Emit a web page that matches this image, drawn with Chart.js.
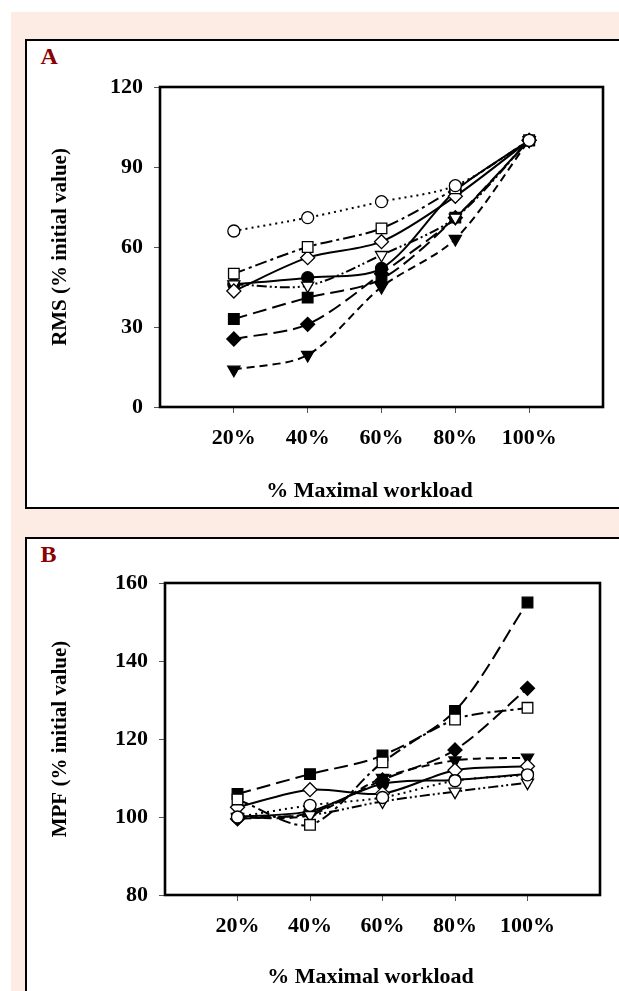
<!DOCTYPE html>
<html><head><meta charset="utf-8">
<script src="https://cdn.jsdelivr.net/npm/chart.js@4/dist/chart.umd.min.js"></script>
<style>
html,body{margin:0;padding:0;background:#fff;width:619px;height:991px;overflow:hidden;position:relative;font-family:'Liberation Serif',serif;}
#bg{position:absolute;left:11px;top:12px;width:608px;height:979px;background:#fdece3;}
.box{position:absolute;left:25px;width:700px;border:2px solid #000;background:#fff;}
#boxA{top:39px;height:466px;}
#boxB{top:537px;height:500px;}
.lbl{position:absolute;left:13.5px;top:2.5px;font:bold 24px/24px 'Liberation Serif';color:#8b0000;}
canvas{position:absolute;left:0;top:0;}
</style></head>
<body>
<div id="bg"></div>
<div class="box" id="boxA"><div class="lbl">A</div><canvas id="cA" width="592" height="466"></canvas></div>
<div class="box" id="boxB"><div class="lbl">B</div><canvas id="cB" width="592" height="452"></canvas></div>
<script>
// ---- data ----
const workload = [20, 40, 60, 80, 100];
const xTickLabels = ['20%', '40%', '60%', '80%', '100%'];
const xAxisTitle = '% Maximal workload';
const rmsTicks = [0, 30, 60, 90, 120];
const mpfTicks = [80, 100, 120, 140, 160];

const rmsOpenCircle    = [66, 71, 77, 83, 100];
const rmsOpenSquare    = [50, 60, 67, 82, 100];
const rmsOpenDiamond   = [43.5, 56, 62, 79, 100];
const rmsOpenTriangle  = [46, 45.5, 57, 71, 100];
const rmsFilledCircle  = [46, 48.5, 52, 81, 100];
const rmsFilledSquare  = [33, 41, 48, 71, 100];
const rmsFilledDiamond = [25.5, 31, 50, 71, 100];
const rmsFilledTriangle= [14, 19.5, 45, 63, 100];

const mpfOpenCircle    = [100, 103, 105, 109.3, 110.8];
const mpfOpenSquare    = [104.5, 98, 114, 125, 128];
const mpfOpenDiamond   = [102.5, 107, 106, 112, 113];
const mpfOpenTriangle  = [100, 100.5, 104, 106.5, 108.8];
const mpfFilledCircle  = [100, 101.5, 108.5, 109.5, 111];
const mpfFilledSquare  = [105.9, 111, 115.8, 127.2, 155];
const mpfFilledDiamond = [99.5, 101, 109.5, 117.2, 133];
const mpfFilledTriangle= [99.8, 100.5, 110, 114.5, 115.2];

// ---- styles ----
const S = {
  openCircle:    {ps:'circle',  bg:'#fff', dash:[2,4], r:6},
  openSquare:    {ps:'rect',    bg:'#fff', dash:[12,4,3,4], r:7.5},
  openDiamond:   {ps:'rectRot', bg:'#fff', dash:[], r:7},
  openTriangle:  {ps:'triangle',bg:'#fff', dash:[10,3,2,3,2,3], r:7, rot:180},
  filledCircle:  {ps:'circle',  bg:'#000', dash:[], r:6},
  filledSquare:  {ps:'rect',    bg:'#000', dash:[14,6], r:7.5},
  filledDiamond: {ps:'rectRot', bg:'#000', dash:[14,6], r:7},
  filledTriangle:{ps:'triangle',bg:'#000', dash:[8,5], r:7, rot:180}
};

function ds(vals, key){
  const s = S[key];
  return {
    data: workload.map((x,i)=>({x:x, y:vals[i]})),
    borderColor:'#000', borderWidth:2, borderDash:s.dash, tension:0.3,
    pointStyle:s.ps, pointRadius:s.r, pointRotation:s.rot||0,
    pointBackgroundColor:s.bg, pointBorderColor:'#000', pointBorderWidth:1.3,
    fill:false
  };
}

const F = "'Liberation Serif', 'Times New Roman', serif";

const framePlugin = {id:'frame', beforeDatasetsDraw(chart){
  const {ctx, chartArea:{left,top,right,bottom}} = chart;
  ctx.save(); ctx.strokeStyle='#000'; ctx.lineWidth=2.6; ctx.setLineDash([]);
  ctx.strokeRect(left,top,right-left,bottom-top); ctx.restore();
}};

// x-axis title, drawn slightly left of the plot centre as in the original
const xTitlePlugin = {id:'xTitle', afterDraw(chart, args, opts){
  const {ctx, chartArea:{left,right}} = chart;
  ctx.save(); ctx.fillStyle='#000'; ctx.font = "bold 22px " + F;
  ctx.textAlign='center'; ctx.textBaseline='middle';
  ctx.fillText(xAxisTitle, (left+right)/2 + opts.dx, chart.height - opts.fromBottom);
  ctx.restore();
}};

function makeChart(id, datasets, yTicks, yTitle, cfg){
  new Chart(document.getElementById(id), {
    type:'line',
    data:{datasets},
    options:{
      responsive:false, animation:false, devicePixelRatio:1,
      layout:{padding:{left:0, top:cfg.padTop, right:cfg.padRight, bottom:0}},
      plugins:{legend:{display:false}, tooltip:{enabled:false},
               xTitle:{dx:-12, fromBottom:cfg.titleFromBottom}},
      scales:{
        x:{type:'linear', min:0, max:120,
          afterBuildTicks:(sc)=>{ sc.ticks = workload.map(v=>({value:v})); },
          afterFit:(sc)=>{ sc.height = cfg.xHeight; },
          ticks:{callback:(v)=>xTickLabels[workload.indexOf(v)], color:'#000', padding:12, maxRotation:0, autoSkip:false,
                 font:{family:F, size:22, weight:'bold'}},
          grid:{drawOnChartArea:false, drawTicks:true, tickLength:6, color:'#555', lineWidth:1},
          border:{display:false},
          title:{display:false}
        },
        y:{type:'linear', min:yTicks[0], max:yTicks[yTicks.length-1],
          afterBuildTicks:(sc)=>{ sc.ticks = yTicks.map(v=>({value:v})); },
          afterFit:(sc)=>{ sc.width = cfg.yWidth; },
          ticks:{color:'#000', padding:11, font:{family:F, size:22, weight:'bold'}},
          grid:{drawOnChartArea:false, drawTicks:true, tickLength:6, color:'#555', lineWidth:1},
          border:{display:false},
          title:{display:true, text:yTitle, color:'#000', padding:{top:21,bottom:0},
                 font:{family:F, size:21, weight:'bold'}}
        }
      }
    },
    plugins:[framePlugin, xTitlePlugin]
  });
}

makeChart('cA', [
  ds(rmsOpenCircle,'openCircle'), ds(rmsOpenSquare,'openSquare'), ds(rmsOpenDiamond,'openDiamond'),
  ds(rmsOpenTriangle,'openTriangle'), ds(rmsFilledCircle,'filledCircle'), ds(rmsFilledSquare,'filledSquare'),
  ds(rmsFilledDiamond,'filledDiamond'), ds(rmsFilledTriangle,'filledTriangle')
], rmsTicks, 'RMS (% initial value)', {padTop:46, padRight:16, xHeight:100, yWidth:133, titleFromBottom:16});

makeChart('cB', [
  ds(mpfOpenCircle,'openCircle'), ds(mpfOpenSquare,'openSquare'), ds(mpfOpenDiamond,'openDiamond'),
  ds(mpfOpenTriangle,'openTriangle'), ds(mpfFilledCircle,'filledCircle'), ds(mpfFilledSquare,'filledSquare'),
  ds(mpfFilledDiamond,'filledDiamond'), ds(mpfFilledTriangle,'filledTriangle')
], mpfTicks, 'MPF (% initial value)', {padTop:44, padRight:19, xHeight:96, yWidth:138, titleFromBottom:14});
</script>
</body></html>
